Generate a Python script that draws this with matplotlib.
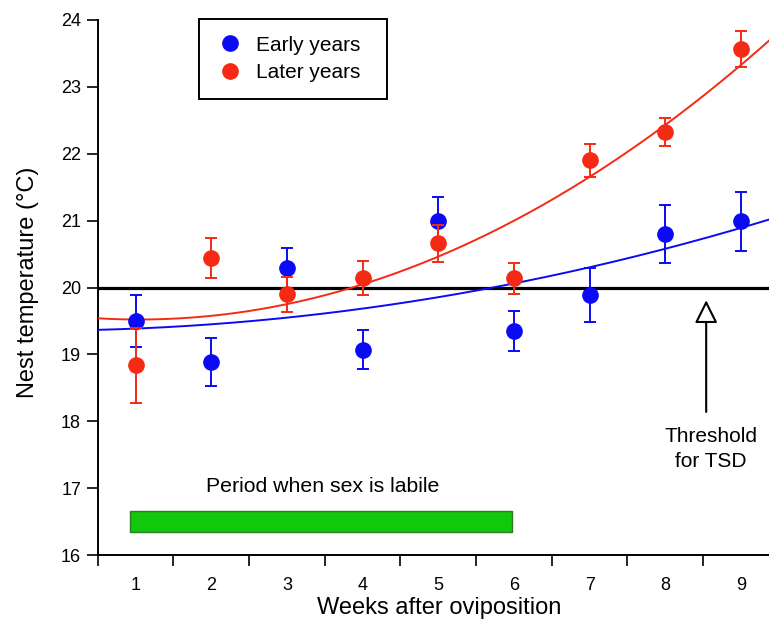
import numpy as np
import matplotlib
matplotlib.use("Agg")
import matplotlib.pyplot as plt
from matplotlib.patches import Rectangle
from matplotlib.lines import Line2D

plt.rcParams['font.family'] = ['Liberation Sans', 'DejaVu Sans']

# ---- data ----
weeks = [1, 2, 3, 4, 5, 6, 7, 8, 9]
early_mean = [19.50, 18.88, 20.29, 19.07, 20.99, 19.35, 19.89, 20.80, 20.99]
early_err = [0.39, 0.36, 0.30, 0.29, 0.37, 0.30, 0.40, 0.43, 0.44]
later_mean = [18.84, 20.44, 19.90, 20.14, 20.66, 20.14, 21.90, 22.32, 23.56]
later_err = [0.56, 0.30, 0.26, 0.25, 0.28, 0.23, 0.25, 0.21, 0.27]

# fitted curves
curve_x = [0.5, 1, 2, 3, 4, 5, 6, 7, 8, 9, 9.37]
early_curve = [19.36, 19.39, 19.45, 19.55, 19.69, 19.86, 20.06, 20.29, 20.57, 20.91, 21.01]
later_curve = [19.53, 19.51, 19.59, 19.77, 20.06, 20.46, 20.98, 21.63, 22.45, 23.30, 23.72]

threshold = 20
labile_start, labile_end = 0.93, 5.97
labile_low, labile_high = 16.35, 16.66
arrow_x, arrow_tip, arrow_tail = 8.54, 19.81, 18.14

yticks = [16, 17, 18, 19, 20, 21, 22, 23, 24]
series_labels = ["Early years", "Later years"]

BLUE = "#0a0af5"
RED = "#f52a14"
GREEN = "#12c80c"

W, H = 769, 623
fig = plt.figure(figsize=(W / 100, H / 100), dpi=100)
ax = fig.add_axes([97.7 / W, 1 - 555 / H, (W - 97.7) / W, 535 / H])

# threshold line
ax.axhline(threshold, color="black", lw=2.3, zorder=2)

# smooth fitted curves (quadratic through the sampled curve points)
xs = np.linspace(curve_x[0], curve_x[-1], 300)
for cy, col in ((early_curve, BLUE), (later_curve, RED)):
    coef = np.polyfit(curve_x, cy, 2)
    ax.plot(xs, np.polyval(coef, xs), color=col, lw=1.4, zorder=3)

# data points with error bars
ax.errorbar(weeks, early_mean, yerr=early_err, fmt='o', color=BLUE, ms=11,
            elinewidth=1.4, capsize=4.5, capthick=1.4, zorder=4)
ax.errorbar(weeks, later_mean, yerr=later_err, fmt='o', color=RED, ms=11,
            elinewidth=1.4, capsize=4.5, capthick=1.4, zorder=5)

# labile period bar
ax.add_patch(Rectangle((labile_start, labile_low), labile_end - labile_start,
                       labile_high - labile_low, facecolor=GREEN, edgecolor="#2a7a22",
                       lw=1.0, zorder=3))
ax.text(3.47, 17.02, "Period when sex is labile", ha="center", va="center", fontsize=15.3)

# threshold arrow
ax.annotate("", xy=(arrow_x, arrow_tip), xytext=(arrow_x, arrow_tail),
            arrowprops=dict(arrowstyle="-|>,head_length=0.7,head_width=0.35",
                            facecolor="white", edgecolor="black", lw=1.5,
                            mutation_scale=20, shrinkA=0, shrinkB=0))
ax.text(8.6, 17.58, "Threshold\nfor TSD", ha="center", va="center", fontsize=15,
        linespacing=1.4)

# axes styling
for s in ("top", "right"):
    ax.spines[s].set_visible(False)
for s in ("left", "bottom"):
    ax.spines[s].set_linewidth(1.4)

ax.set_yticks(yticks)
ax.set_yticklabels([str(v) for v in yticks])
ax.tick_params(axis="y", direction="out", length=8, width=1.2, pad=4, labelsize=13)

ax.set_xticks(np.arange(0.5, 9.0, 1.0))
ax.set_xticklabels([])
ax.set_xticks(weeks, minor=True)
ax.set_xticklabels([str(w) for w in weeks], minor=True)
ax.tick_params(axis="x", which="major", direction="out", length=8, width=1.2)
ax.tick_params(axis="x", which="minor", length=0, pad=16, labelsize=13)

ax.set_xlim(0.5, 9.37)
ax.set_ylim(16, 24)

fig.text(439 / W, 1 - 608 / H, "Weeks after oviposition", ha="center", va="center", fontsize=17)
fig.text(28 / W, 1 - 282 / H, "Nest temperature (°C)", ha="center", va="center",
         fontsize=17, rotation=90)

handles = [Line2D([], [], ls="none", marker="o", ms=11, color=BLUE),
           Line2D([], [], ls="none", marker="o", ms=11, color=RED)]
axw = W - 97.7
leg = ax.legend(handles, series_labels, loc="upper left",
                bbox_to_anchor=(0.151, 1.002, 188 / axw, 0.0), mode="expand",
                fontsize=15, frameon=True, fancybox=False, edgecolor="black",
                framealpha=1, handletextpad=0.55, borderpad=0.8, labelspacing=0.4,
                handlelength=1.4, borderaxespad=0)
leg.get_frame().set_linewidth(1.4)

fig.savefig("out.png", dpi=100)
